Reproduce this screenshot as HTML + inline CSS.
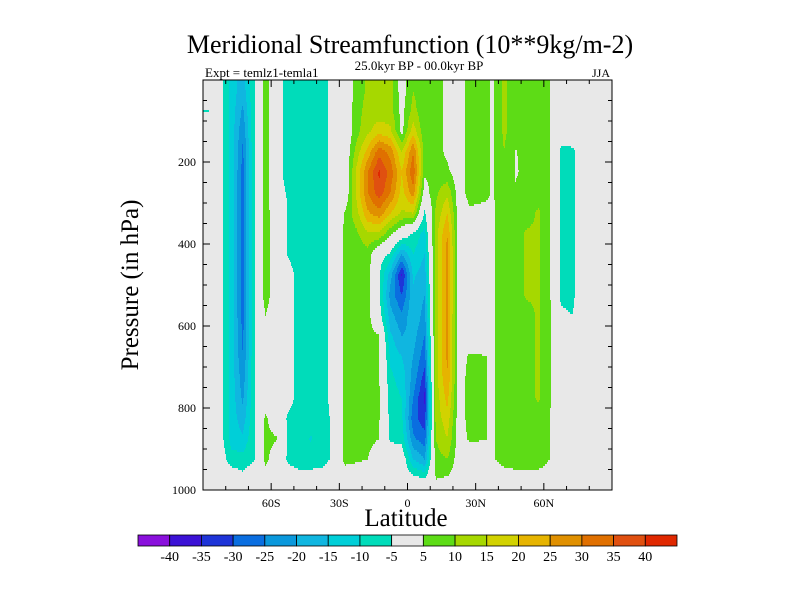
<!DOCTYPE html>
<html><head><meta charset="utf-8"><style>
body{margin:0;background:#fff}
svg{display:block;font-family:"Liberation Serif",serif}
</style></head><body>
<svg id="chart" width="800" height="600" viewBox="0 0 800 600">
<rect width="800" height="600" fill="#fff"/>
<text x="410" y="53" font-size="26" text-anchor="middle">Meridional Streamfunction (10**9kg/m-2)</text>
<text x="419" y="70" font-size="13" text-anchor="middle">25.0kyr BP - 00.0kyr BP</text>
<text x="205" y="77" font-size="13">Expt = temlz1-temla1</text>
<text x="610" y="77" font-size="12" text-anchor="end">JJA</text>
<rect x="203" y="80" width="409" height="410" fill="#e8e8e8"/>
<g id="cells"></g>
<g id="axes"></g>
<rect x="203" y="80" width="409" height="410" fill="none" stroke="#000" stroke-width="1"/>
<text transform="translate(138,285) rotate(-90)" font-size="25" text-anchor="middle">Pressure (in hPa)</text>
<text x="406" y="526" font-size="25" text-anchor="middle">Latitude</text>
<g id="colorbar"></g>
</svg>
<script>
const lats=[-87.5,-82.5,-77.5,-72.5,-67.5,-62.5,-57.5,-52.5,-47.5,-42.5,-37.5,-32.5,-27.5,-22.5,-17.5,-12.5,-7.5,-2.5,2.5,7.5,12.5,17.5,22.5,27.5,32.5,37.5,42.5,47.5,52.5,57.5,62.5,67.5,72.5,77.5,82.5,87.5];
const pressures=[25,75,125,175,225,275,325,375,425,475,525,575,625,675,725,775,825,875,925,975];
// psi[column at lats[i]] = values at each pressure level
const psi=[
[0,-5.2,0,0,0,0,0,0,0,0,0,0,0,0,0,0,0,0,0,0],
[-2,-2,-2,-2,-2,-2,-2,-2,-2,-2,-2,-2,-2,-2,-2,-2,-2,-2,-1,0],
[-12,-12,-12,-12,-12,-12,-12,-12,-12,-12,-12,-12,-12,-12,-12,-12,-12,-12,-8,0],
[-18,-21,-24,-26,-27,-27,-27,-27,-27,-27,-27,-27,-26,-25,-23,-21,-18,-14,-8,-3],
[-5.5,-5.5,-5.5,-5.5,-5.5,-5.5,-5.5,-5.5,-5.5,-5.5,-5.5,-5.5,-5.5,-5.5,-5.5,-5.5,-5.5,-5.5,-5.5,0],
[8,8,8,8,8,8,8,8,8,8,8,5,0,0,0,0,6,7,7,0],
[-3,-3,-3,-3,-3,-3,0,0,0,0,0,0,0,0,0,0,0,5.5,0,0],
[-7,-7,-7,-7,-7,-5.5,-5.5,-5.5,-5.5,-3,-3,-3,-3,-3,-3,-3,-6,-6,-6,-2],
[-7,-7,-7,-7,-7,-7,-7,-7,-7,-7,-7,-7,-7,-7,-7,-7,-7,-8,-7,-3],
[-7,-7,-7,-7,-7,-7,-7,-7,-7,-7,-7,-7,-7,-7,-7,-7,-7,-10.5,-7,-3],
[-7,-7,-7,-7,-7,-7,-7,-7,-7,-7,-7,-7,-7,-7,-7,-7,-7,-7,-7,-2],
[-3,-3,-3,-3,-3,-3,-3,-3,-3,-3,-3,-3,-3,-3,-3,-3,-4,-4,-4,0],
[0,0,0,0,0,0,5.5,7,7,7,7,7,7,7,7,7,7,7,7,0],
[7,8,8,12,16,16,13,9,7,7,7,7,7,7,7,7,7,7,6,0],
[11,12,14,22,30,30,24,14,8,7,7,7,7,7,7,7,7,7,5,0],
[12,12,18,33,41,38,28,14,-2,-4,-4,-2,5.5,5.5,5.5,5.5,5.5,5,0,0],
[12,12,16,28,33,30,20,6,-6,-18,-22,-18,-14,-11,-9,-8,-7,-6,0,0],
[2,3,3,15,20,18,14,0,-20,-36,-30,-24,-20,-15,-12,-10,-9,-7,0,0],
[10,12,18,30,34,28,15,-6,-10,-14,-16,-16,-18,-20,-22,-25,-28,-24,-15,-2],
[6,6,6,8,6,2,-6,-12,-15,-18,-20,-22,-25,-28,-32,-36,-33,-28,-20,-4],
[7,7,7,7,7,9,11,13,13,13,13,13,13,13,13,12,12,10,8,5],
[4,4,4,4,6,14,20,25,27,27,27,26,26,26,25,22,18,15,10,4],
[2,2,2,2,2,2,2,2,2,2,2,2,2,2,2,2,2,2,2,2],
[7,7,7,7,7,7,4,0,0,0,0,0,0,6,7,7,7,6,0,0],
[7,7,7,7,7,7,3,0,0,0,0,0,0,5.5,5.5,5.5,5.5,5.5,0,0],
[4.5,4.5,4.5,4.5,4.5,4.5,4.5,4.5,4.5,4.5,4.5,4.5,4.5,4.5,4.5,4.5,4.5,4.5,4.5,0],
[11,11,11,10,9,8,7,7,7,7,7,7,7,7,7,7,7,7,7,2],
[7,7,7,4.8,4.8,5.2,6,7,7,7,7,7,7,7,7,7,7,7,7,3],
[7,7,7,6,5.5,6,7,11,11,11,11,7,7,7,7,7,7,7,7,3],
[7,7,7,7,7,7,11,11,11,11,11,11,11,11,11,11,7,7,7,3],
[5,5,5,5,5,5,6,6,6,6,6,6,6,6,6,6,5,5,5,3],
[0,0,-2,-6,-6,-6,-6,-6,-6,-6,-6,-4,0,0,0,0,0,0,0,0],
[0,0,0,-6.5,-6.5,-6.5,-6.5,-6.5,-6.5,-6.5,-6.5,-5,0,0,0,0,0,0,0,0],
[0,0,0,0,0,0,0,0,0,0,0,0,0,0,0,0,0,0,0,0],
[0,0,0,0,0,0,0,0,0,0,0,0,0,0,0,0,0,0,0,0],
[0,0,0,0,0,0,0,0,0,0,0,0,0,0,0,0,0,0,0,0]
];
const levels=[-40,-35,-30,-25,-20,-15,-10,-5,5,10,15,20,25,30,35,40];
const levelColors=["#8a10dc","#3c12d6","#1e34d8","#0a6ee0","#0a98dc","#10b6e0","#00cfd8","#00dcba","#e8e8e8","#5ddc16","#a6d800","#d2d200","#e6b400","#e09000","#e07000","#e05010","#e02800"];
const yTicks=[200,400,600,800,1000];
const xTickLats=[-60,-30,0,30,60];
const xTickLabels=["60S","30S","0","30N","60N"];

const NS="http://www.w3.org/2000/svg";
const X0=203,X1=612,Y0=80,Y1=490;
function xScale(lat){return X0+(lat+90)/180*(X1-X0);}
function yScale(p){return Y0+p/1000*(Y1-Y0);}
function classify(v){let k=0;while(k<levels.length&&v>=levels[k])k++;return k;}
function sample(lat,p){
  let fi=(lat-lats[0])/(lats[1]-lats[0]);fi=Math.max(0,Math.min(lats.length-1,fi));
  let fj=(p-pressures[0])/(pressures[1]-pressures[0]);fj=Math.max(0,Math.min(pressures.length-1,fj));
  const i0=Math.min(Math.floor(fi),lats.length-2),j0=Math.min(Math.floor(fj),pressures.length-2);
  const a=fi-i0,b=fj-j0;
  return psi[i0][j0]*(1-a)*(1-b)+psi[i0+1][j0]*a*(1-b)+psi[i0][j0+1]*(1-a)*b+psi[i0+1][j0+1]*a*b;
}
const cells=document.getElementById('cells');
for(let y=Y0;y<Y1;y+=2){
  const p=(y+1-Y0)/(Y1-Y0)*1000;
  let runStart=X0,runK=null;
  for(let x=X0;x<=X1;x++){
    let k=null;
    if(x<X1){const lat=-90+(x+0.5-X0)/(X1-X0)*180;k=classify(sample(lat,p));}
    if(k!==runK){
      if(runK!==null&&runK!==8){
        const r=document.createElementNS(NS,'rect');
        r.setAttribute('x',runStart);r.setAttribute('y',y);
        r.setAttribute('width',x-runStart);r.setAttribute('height',2);
        r.setAttribute('fill',levelColors[runK]);
        
        
        cells.appendChild(r);
      }
      runStart=x;runK=k;
    }
  }
}
const axes=document.getElementById('axes');
function line(x1,y1,x2,y2){const l=document.createElementNS(NS,'line');l.setAttribute('x1',x1);l.setAttribute('y1',y1);l.setAttribute('x2',x2);l.setAttribute('y2',y2);l.setAttribute('stroke','#000');l.setAttribute('stroke-width','1');axes.appendChild(l);return l;}
for(let p=50;p<1000;p+=50){const y=yScale(p);const L=(p%200===0)?7:4;
  let t=line(X0,y,X0+L,y);
  
  
  t=line(X1,y,X1-L,y);
  
  }
for(let lat=-80;lat<=80;lat+=10){const x=xScale(lat);const L=(lat%30===0)?7:4;
  let t=line(x,Y1,x,Y1-L);
  
  
  t=line(x,Y0,x,Y0+L);
  
  }
yTicks.forEach(p=>{const t=document.createElementNS(NS,'text');t.setAttribute('x',196);t.setAttribute('y',yScale(p)+4);t.setAttribute('font-size','12');t.setAttribute('text-anchor','end');t.textContent=p;
  
  
  axes.appendChild(t);});
xTickLats.forEach((lat,i)=>{const t=document.createElementNS(NS,'text');t.setAttribute('x',xScale(lat));t.setAttribute('y',507);t.setAttribute('font-size','12');t.setAttribute('text-anchor','middle');t.textContent=xTickLabels[i];
  
  
  axes.appendChild(t);});
const cb=document.getElementById('colorbar');
const CB0=138,CB1=677,CBY=535,CBH=11,bw=(CB1-CB0)/levelColors.length;
levelColors.forEach((c,i)=>{const r=document.createElementNS(NS,'rect');r.setAttribute('x',CB0+i*bw);r.setAttribute('y',CBY);r.setAttribute('width',bw);r.setAttribute('height',CBH);r.setAttribute('fill',c);r.setAttribute('stroke','#000');r.setAttribute('stroke-width','0.8');
  
  
  cb.appendChild(r);});
levels.forEach((v,i)=>{const t=document.createElementNS(NS,'text');t.setAttribute('x',CB0+(i+1)*bw);t.setAttribute('y',561);t.setAttribute('font-size','14');t.setAttribute('text-anchor','middle');t.textContent=v;
  
  
  cb.appendChild(t);});
</script>
</body></html>
